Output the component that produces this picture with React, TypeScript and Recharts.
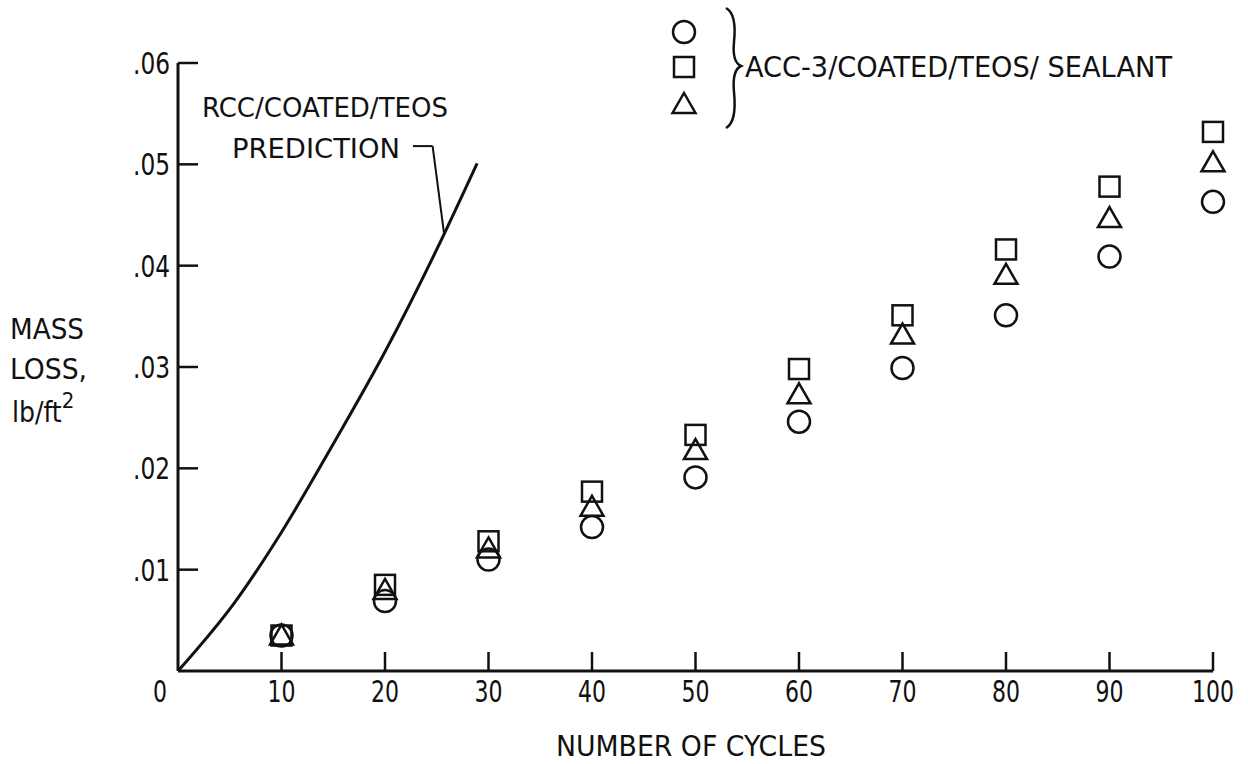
import React from 'react';
import { ComposedChart, Line, Scatter, XAxis, YAxis, ReferenceLine } from 'recharts';

// cycles at which the ACC-3 specimens were weighed
const cycles = [10, 20, 30, 40, 50, 60, 70, 80, 90, 100];

// mass loss, lb/ft^2, per specimen
const circleLoss = [0.0035, 0.0069, 0.011, 0.0142, 0.0191, 0.0246, 0.0299, 0.0351, 0.0409, 0.0463];
const squareLoss = [0.0035, 0.0085, 0.0128, 0.0177, 0.0233, 0.0298, 0.0351, 0.0416, 0.0478, 0.0532];
const triangleLoss = [0.0035, 0.008, 0.0121, 0.0162, 0.0218, 0.0273, 0.0332, 0.0391, 0.0447, 0.0502];

// RCC/COATED/TEOS prediction curve
const predCycles = [0, 5.5, 10, 15, 20, 25, 28.9];
const predLoss = [0, 0.0068, 0.0137, 0.0224, 0.0315, 0.0416, 0.0501];

const xTicks = [0, 10, 20, 30, 40, 50, 60, 70, 80, 90, 100];
const yTicks = [0.01, 0.02, 0.03, 0.04, 0.05, 0.06];

const circleData = cycles.map((x, i) => ({ x, y: circleLoss[i] }));
const squareData = cycles.map((x, i) => ({ x, y: squareLoss[i] }));
const triangleData = cycles.map((x, i) => ({ x, y: triangleLoss[i] }));
const predData = predCycles.map((x, i) => ({ x, y: predLoss[i] }));

const FONT = '"Liberation Sans Narrow", "DejaVu Sans Condensed", "Liberation Sans", sans-serif';
const INK = '#111';

const OpenCircle = ({ cx, cy }: any) => (
  <circle cx={cx} cy={cy} r={11} fill="none" stroke={INK} strokeWidth={2.5} />
);
const OpenSquare = ({ cx, cy }: any) => (
  <rect x={cx - 10} y={cy - 10} width={20} height={20} fill="none" stroke={INK} strokeWidth={2.5} />
);
const OpenTriangle = ({ cx, cy }: any) => (
  <path
    d={`M${cx} ${cy - 11} L${cx + 11.5} ${cy + 9} L${cx - 11.5} ${cy + 9} Z`}
    fill="none"
    stroke={INK}
    strokeWidth={2.5}
  />
);

// narrow lettering: width per digit / dot
const labelWidth = (s: string) => s.replace(/\./g, '').length * 14 + (s.includes('.') ? 9 : 0);

const YTick = ({ x, y, payload }: any) => {
  const s = Number(payload.value).toFixed(2).replace(/^0/, '');
  return (
    <g>
      <line x1={x} y1={y} x2={x + 20} y2={y} stroke={INK} strokeWidth={2.5} />
      <text
        x={x - 8 - labelWidth(s)}
        y={y}
        dy={11}
        fontFamily={FONT}
        fontSize={30}
        fill={INK}
        textLength={labelWidth(s)}
        lengthAdjust="spacingAndGlyphs"
      >
        {s}
      </text>
    </g>
  );
};

const XTick = ({ x, y, payload }: any) => {
  const s = String(payload.value);
  const w = labelWidth(s);
  const cx = payload.value === 0 ? x - 18 : x;
  return (
    <g>
      {payload.value !== 0 && <line x1={x} y1={y} x2={x} y2={y - 19} stroke={INK} strokeWidth={2.5} />}
      <text
        x={cx - w / 2}
        y={y + 31}
        fontFamily={FONT}
        fontSize={30}
        fill={INK}
        textLength={w}
        lengthAdjust="spacingAndGlyphs"
      >
        {s}
      </text>
    </g>
  );
};

export default function App() {
  return (
    <div style={{ position: 'relative', width: 1248, height: 764, background: '#fff' }}>
      <style>{'body{margin:0}'}</style>
      <ComposedChart width={1248} height={764} margin={{ top: 63, right: 35, bottom: 53, left: 118 }}>
        <XAxis
          type="number"
          dataKey="x"
          domain={[0, 100]}
          ticks={xTicks}
          interval={0}
          height={40}
          tickSize={0}
          tickMargin={0}
          tickLine={false}
          axisLine={{ stroke: INK, strokeWidth: 3 }}
          tick={<XTick />}
        />
        <YAxis
          type="number"
          dataKey="y"
          domain={[0, 0.06]}
          ticks={yTicks}
          interval={0}
          width={60}
          tickSize={0}
          tickMargin={0}
          tickLine={false}
          axisLine={{ stroke: INK, strokeWidth: 3 }}
          tick={<YTick />}
        />
        <Line
          data={predData}
          dataKey="y"
          type="monotone"
          stroke={INK}
          strokeWidth={3}
          dot={false}
          activeDot={false}
          isAnimationActive={false}
        />
        <ReferenceLine segment={[{ x: 22.7, y: 0.0518 }, { x: 24.6, y: 0.0518 }]} stroke={INK} strokeWidth={2} />
        <ReferenceLine segment={[{ x: 24.6, y: 0.0518 }, { x: 25.7, y: 0.0432 }]} stroke={INK} strokeWidth={2} />
        <Scatter data={squareData} dataKey="y" shape={<OpenSquare />} isAnimationActive={false} />
        <Scatter data={triangleData} dataKey="y" shape={<OpenTriangle />} isAnimationActive={false} />
        <Scatter data={circleData} dataKey="y" shape={<OpenCircle />} isAnimationActive={false} />
      </ComposedChart>

      <svg
        width={1248}
        height={764}
        style={{ position: 'absolute', left: 0, top: 0, pointerEvents: 'none' }}
        fontFamily={FONT}
        fill={INK}
      >
        <text x={202} y={117} fontSize={26} textLength={246} lengthAdjust="spacingAndGlyphs">
          RCC/COATED/TEOS
        </text>
        <text x={232} y={158} fontSize={26} textLength={168} lengthAdjust="spacingAndGlyphs">
          PREDICTION
        </text>

        <OpenCircle cx={684} cy={32} />
        <OpenSquare cx={684} cy={67} />
        <OpenTriangle cx={684} cy={104} />
        <path
          d="M726 8 Q737 14 734 42 Q732 62 741 66 Q732 70 734 92 Q737 122 726 128"
          fill="none"
          stroke={INK}
          strokeWidth={2.5}
        />
        <text x={745} y={77} fontSize={29} textLength={427} lengthAdjust="spacingAndGlyphs">
          ACC-3/COATED/TEOS/ SEALANT
        </text>

        <text x={10} y={339} fontSize={28} textLength={74} lengthAdjust="spacingAndGlyphs">
          MASS
        </text>
        <text x={10} y={379} fontSize={28} textLength={77} lengthAdjust="spacingAndGlyphs">
          LOSS,
        </text>
        <text x={12} y={422} fontSize={28}>
          lb/ft<tspan dy={-14} fontSize={22}>2</tspan>
        </text>

        <text x={556} y={756} fontSize={29} textLength={270} lengthAdjust="spacingAndGlyphs">
          NUMBER OF CYCLES
        </text>
      </svg>
    </div>
  );
}
